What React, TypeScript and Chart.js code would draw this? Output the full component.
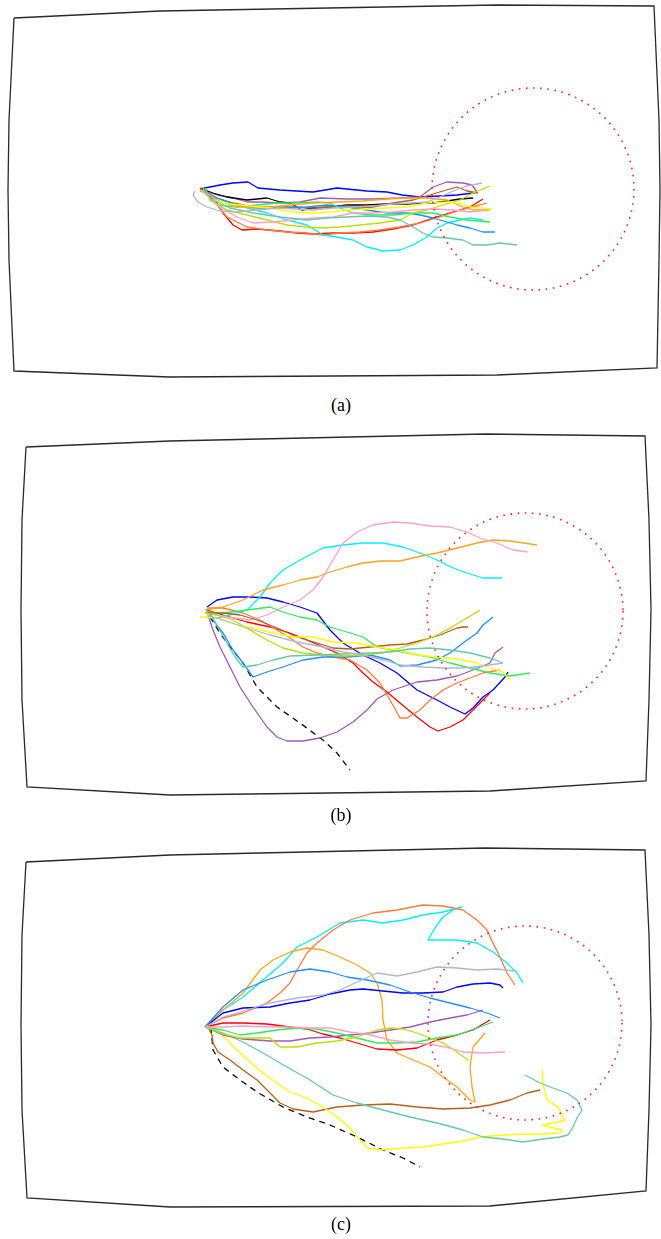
import React, { useEffect, useRef } from "react";
import { Chart, registerables } from "chart.js";

Chart.register(...registerables);

type P = [number, number];

// ---------- Panel (a) ----------
const A_FRAME: P[] = [[14,18],[160,11],[497,5],[654,6],[659,120],[660,190],[659,260],[657,368],[497,375],[169,377],[14,371],[9,260],[8,190],[9,120],[14,18]];
const A_CIRCLE = { cx: 533, cy: 189, r: 101 };
const A_BLUE: P[] = [[200,189],[220,185],[233,183],[248,182],[258,188],[280,190],[313,192],[337,188],[367,191],[387,192],[402,195],[420,197],[440,196],[457,195],[473,193],[477,192]];
const A_PURPLE: P[] = [[200,190],[217,195],[233,198],[247,202],[260,202],[280,203],[300,202],[320,198],[347,199],[373,199],[400,198],[420,197],[433,187],[447,182],[463,183],[472,185],[477,192]];
const A_BLACK: P[] = [[202,189],[213,193],[227,197],[247,200],[267,198],[280,202],[290,203],[302,210],[313,208],[330,207],[347,205],[367,205],[387,204],[407,204],[420,203],[433,203],[447,201],[460,199],[473,198]];
const A_GRAY: P[] = [[195,191],[193,195],[198,202],[207,207],[220,211],[237,212],[257,210],[277,208],[297,209],[313,210],[333,208],[353,207],[373,206],[393,204],[413,203],[427,202],[440,197],[453,191],[467,186],[482,183]];
const A_BROWN: P[] = [[200,191],[217,198],[233,203],[253,207],[273,207],[293,207],[313,208],[330,207],[347,206],[360,208],[373,207],[393,203],[413,200],[430,195],[443,191],[457,187],[467,191],[478,193]];
const A_LIME: P[] = [[203,188],[205,193],[213,202],[227,210],[247,215],[267,220],[287,225],[307,227],[323,228],[340,227],[360,225],[380,223],[400,220],[413,213],[427,210],[443,205],[460,200],[473,193],[490,186]];
const A_YELLOW: P[] = [[200,190],[213,200],[230,204],[250,206],[270,208],[293,212],[313,213],[330,212],[347,210],[367,209],[387,208],[407,207],[427,203],[447,202],[460,203],[470,207],[480,208],[492,209]];
const A_ORANGE: P[] = [[203,190],[217,200],[233,206],[253,208],[270,207],[290,205],[313,203],[337,202],[363,201],[387,199],[407,198],[427,198],[447,200],[463,207],[473,210],[490,210]];
const A_GREEN: P[] = [[205,188],[210,200],[218,205],[237,207],[257,205],[277,203],[297,203],[317,202],[330,203],[340,208],[353,213],[373,215],[393,215],[413,213],[433,213],[450,217],[467,220],[490,222]];
const A_CYAN: P[] = [[201,190],[213,197],[230,203],[247,208],[267,213],[287,220],[307,225],[323,235],[337,237],[353,240],[367,247],[383,251],[400,250],[413,245],[427,237],[437,228],[447,223],[460,220],[470,218],[483,220]];
const A_DODGER: P[] = [[202,190],[217,198],[237,205],[257,208],[280,208],[307,207],[327,205],[347,207],[367,210],[387,213],[407,213],[420,215],[433,218],[447,222],[457,225],[470,228],[483,232],[495,232]];
const A_TEAL: P[] = [[203,190],[213,200],[230,208],[253,213],[280,217],[307,220],[327,218],[347,217],[367,216],[387,217],[400,220],[413,227],[423,233],[433,237],[447,238],[463,240],[473,245],[487,245],[500,243],[517,245]];
const A_PINK: P[] = [[201,190],[220,207],[237,217],[253,223],[273,222],[293,220],[313,218],[333,217],[353,213],[373,213],[393,212],[413,210],[433,209],[453,210],[470,212],[487,210]];
const A_RED: P[] = [[200,188],[207,193],[217,203],[223,213],[233,225],[242,230],[257,229],[280,231],[297,233],[313,234],[333,233],[353,233],[373,232],[393,229],[413,225],[433,218],[453,212],[470,207],[483,199]];
const A_CORAL: P[] = [[203,191],[213,200],[227,217],[247,227],[267,230],[287,232],[307,233],[323,235],[340,233],[360,232],[380,230],[400,227],[420,223],[440,217],[460,210],[480,205],[487,203]];

// ---------- Panel (b) ----------
const B_FRAME: P[] = [[26,447],[170,441],[485,434],[645,436],[649,520],[651,610],[649,700],[646,781],[490,791],[170,795],[27,787],[22,700],[21,610],[22,520],[26,447]];
const B_CIRCLE = { cx: 525, cy: 611, r: 98 };
const B_PINK: P[] = [[207,613],[227,617],[250,620],[267,615],[283,607],[300,600],[313,590],[323,577],[333,560],[343,543],[357,532],[373,525],[393,522],[410,523],[430,526],[450,527],[467,532],[480,538],[497,543],[513,550],[528,552]];
const B_ORANGE: P[] = [[205,610],[223,607],[243,600],[263,590],[283,585],[300,580],[317,577],[330,572],[347,567],[363,563],[380,561],[400,561],[417,557],[437,553],[457,548],[477,543],[493,540],[510,541],[537,545]];
const B_CYAN: P[] = [[207,617],[217,618],[230,615],[247,610],[260,597],[270,583],[283,570],[300,560],[323,548],[343,545],[363,543],[383,543],[403,547],[420,553],[437,560],[453,568],[467,573],[483,578],[502,578]];
const B_BLUE: P[] = [[207,607],[217,600],[233,597],[250,597],[267,598],[283,602],[300,607],[317,613],[330,630],[343,643],[363,655],[380,663],[397,673],[417,690],[437,700],[450,707],[465,714],[473,708],[483,697],[493,690],[505,677],[508,672]];
const B_GREEN: P[] = [[207,612],[223,613],[247,610],[270,607],[283,612],[300,617],[317,620],[330,627],[347,632],[363,637],[377,647],[393,650],[407,653],[430,657],[450,663],[470,668],[490,673],[510,676],[530,673]];
const B_LIME: P[] = [[205,613],[217,615],[233,620],[250,630],[267,640],[283,648],[303,653],[323,655],[343,656],[363,655],[383,653],[400,648],[417,643],[433,637],[450,628],[467,618],[480,610]];
const B_BROWN: P[] = [[205,613],[223,613],[240,615],[257,620],[277,628],[297,637],[317,643],[333,648],[350,649],[370,647],[390,645],[407,644],[423,640],[440,635],[457,628],[463,627],[468,627]];
const B_YELLOW: P[] = [[200,617],[217,618],[237,625],[253,628],[273,633],[293,637],[313,637],[333,642],[357,643],[377,647],[397,650],[417,655],[437,657],[457,659],[477,663],[490,668],[503,672],[510,680]];
const B_GRAY: P[] = [[207,615],[223,620],[247,628],[270,635],[297,642],[323,647],[343,652],[363,655],[383,660],[400,665],[423,667],[443,668],[463,668],[483,666],[503,663]];
const B_TEAL: P[] = [[210,613],[218,627],[227,643],[235,657],[243,667],[257,665],[273,660],[290,656],[317,655],[343,654],[370,653],[390,652],[410,649],[430,648],[450,650],[470,653],[490,658],[503,663]];
const B_DODGER: P[] = [[207,610],[213,620],[223,633],[233,650],[243,663],[253,677],[267,672],[283,667],[303,660],[323,657],[347,657],[370,655],[390,660],[400,666],[417,665],[437,660],[450,653],[463,643],[477,633],[483,625],[493,617]];
const B_PURPLE: P[] = [[208,615],[213,630],[220,647],[230,667],[240,687],[253,707],[267,727],[277,737],[287,741],[303,741],[320,738],[337,732],[353,722],[367,710],[377,699],[393,690],[417,682],[437,680],[457,676],[473,670],[490,663],[495,653],[503,647]];
const B_RED: P[] = [[207,610],[223,615],[247,622],[270,627],[290,633],[307,640],[323,647],[337,653],[353,663],[363,673],[373,682],[387,692],[400,703],[417,717],[430,727],[438,731],[450,727],[463,720],[470,713],[480,703],[490,693]];
const B_CORAL: P[] = [[207,608],[223,608],[243,613],[260,620],[277,630],[290,638],[303,647],[317,653],[333,657],[350,660],[367,670],[380,683],[390,700],[400,718],[407,718],[420,710],[430,700],[443,690],[457,683],[470,678],[483,673],[500,670]];
const B_DASHED: P[] = [[210,617],[220,633],[230,647],[243,663],[257,687],[277,707],[300,723],[323,740],[337,753],[350,770]];

// ---------- Panel (c) ----------
const C_FRAME: P[] = [[26,862],[170,855],[485,848],[645,850],[649,935],[651,1025],[649,1110],[646,1191],[490,1206],[170,1207],[27,1198],[22,1110],[21,1025],[22,935],[26,862]];
const C_CIRCLE = { cx: 525, cy: 1023, r: 97 };
const C_CORAL: P[] = [[205,1027],[223,1018],[243,1013],[267,1003],[280,993],[290,983],[297,970],[307,953],[317,943],[333,930],[350,920],[373,913],[397,910],[423,905],[443,906],[463,910],[477,920],[487,930],[493,943],[500,957],[507,973],[515,985]];
const C_CYAN: P[] = [[205,1027],[223,1010],[243,997],[263,980],[283,963],[297,947],[317,937],[340,923],[363,920],[383,923],[403,920],[423,915],[443,912],[462,907],[453,910],[443,917],[437,925],[432,933],[428,940],[437,940],[457,940],[477,943],[493,952],[507,963],[517,973],[523,983]];
const C_ORANGE: P[] = [[205,1027],[223,1010],[243,993],[260,970],[273,960],[290,952],[307,948],[323,950],[340,957],[357,965],[370,973],[377,983],[382,1000],[383,1020],[387,1040],[397,1053],[413,1060],[430,1067],[443,1077],[457,1087],[470,1100],[475,1102],[472,1087],[470,1067],[473,1047],[485,1033]];
const C_DODGER: P[] = [[205,1027],[223,1007],[243,990],[267,980],[290,972],[310,969],[330,972],[347,977],[367,980],[390,985],[410,992],[430,998],[450,1003],[470,1008],[487,1013],[500,1018]];
const C_GRAY: P[] = [[205,1027],[223,1017],[247,1010],[270,1003],[297,998],[323,995],[340,990],[357,982],[377,973],[397,976],[417,972],[437,967],[457,968],[477,970],[497,969],[515,971]];
const C_BLUE: P[] = [[205,1027],[223,1013],[243,1008],[270,1007],[290,1003],[310,1000],[330,994],[350,990],[363,989],[383,991],[403,993],[423,993],[443,992],[457,987],[473,984],[490,983],[500,985],[503,988]];
const C_PURPLE: P[] = [[205,1027],[223,1035],[243,1039],[270,1041],[290,1041],[310,1038],[330,1037],[350,1035],[370,1033],[390,1030],[410,1027],[430,1022],[450,1018],[467,1015],[483,1010]];
const C_RED: P[] = [[205,1027],[223,1023],[243,1023],[267,1024],[290,1027],[307,1029],[323,1034],[340,1038],[357,1043],[377,1049],[397,1050],[417,1048],[437,1040],[457,1035],[473,1030],[490,1020]];
const C_GREEN: P[] = [[205,1027],[223,1030],[240,1035],[257,1033],[277,1030],[297,1028],[317,1029],[337,1033],[357,1038],[377,1043],[397,1043],[417,1042],[437,1038],[457,1035],[477,1028],[493,1022]];
const C_PINK: P[] = [[205,1027],[223,1027],[243,1026],[270,1027],[290,1027],[310,1028],[330,1028],[350,1032],[370,1035],[390,1040],[410,1043],[430,1044],[450,1048],[463,1052],[483,1053],[505,1052]];
const C_LIME: P[] = [[205,1027],[223,1034],[240,1038],[260,1038],[270,1038],[280,1047],[297,1047],[317,1043],[337,1041],[357,1037],[377,1030],[390,1028],[403,1029],[417,1033],[430,1038],[443,1043],[457,1052],[468,1060]];
const C_BROWN: P[] = [[208,1027],[212,1035],[213,1043],[218,1052],[230,1060],[243,1070],[257,1080],[270,1093],[280,1103],[293,1109],[313,1112],[337,1107],[363,1105],[390,1104],[417,1107],[443,1109],[470,1108],[490,1105],[510,1100],[527,1093],[540,1090]];
const C_YELLOW: P[] = [[205,1027],[217,1030],[227,1040],[237,1050],[250,1062],[263,1073],[277,1083],[290,1092],[307,1098],[323,1107],[337,1117],[350,1128],[360,1140],[367,1148],[380,1150],[403,1148],[423,1147],[443,1144],[463,1141],[480,1137],[503,1135],[527,1134],[543,1134],[560,1133],[562,1130],[550,1127],[543,1125],[557,1122],[565,1120],[558,1107],[547,1100],[543,1083],[542,1070]];
const C_TEAL: P[] = [[205,1027],[223,1033],[243,1042],[263,1053],[287,1067],[310,1080],[333,1095],[357,1103],[383,1110],[410,1117],[437,1123],[463,1130],[483,1137],[503,1139],[523,1142],[543,1139],[560,1137],[568,1135],[573,1127],[577,1118],[582,1110],[577,1100],[567,1093],[553,1088],[540,1083],[525,1075]];
const C_DASHED: P[] = [[211,1027],[213,1050],[223,1067],[240,1080],[257,1092],[283,1107],[307,1117],[330,1125],[357,1137],[383,1150],[403,1158],[420,1167]];

const LABELS = ["(a)", "(b)", "(c)"];

// ---------- styles ----------
const COLORS: Record<string, string> = {
  blue: "#0000ff",
  purple: "#a05ab4",
  black: "#000000",
  gray: "#b4b4d2",
  brown: "#b5601a",
  lime: "#bede00",
  yellow: "#ffff00",
  orange: "#ffa41c",
  green: "#2eec5c",
  cyan: "#00f0ff",
  dodger: "#1e90ff",
  teal: "#66c8a6",
  pink: "#ffa0c8",
  red: "#ff0000",
  coral: "#ff7a3c",
};

type Line = { pts: P[]; c: string; dashed?: boolean };
type Panel = { top: number; height: number; frame: P[]; circle: { cx: number; cy: number; r: number }; lines: Line[]; labelY: number; label: string };

const PANELS: Panel[] = [
  {
    top: 0, height: 392, frame: A_FRAME, circle: A_CIRCLE, labelY: 405, label: LABELS[0],
    lines: [
      { pts: A_GRAY, c: "gray" }, { pts: A_TEAL, c: "teal" }, { pts: A_PINK, c: "pink" }, { pts: A_YELLOW, c: "yellow" },
      { pts: A_ORANGE, c: "orange" }, { pts: A_LIME, c: "lime" }, { pts: A_GREEN, c: "green" }, { pts: A_DODGER, c: "dodger" },
      { pts: A_CYAN, c: "cyan" }, { pts: A_CORAL, c: "coral" }, { pts: A_RED, c: "red" }, { pts: A_BROWN, c: "brown" },
      { pts: A_BLACK, c: "black" }, { pts: A_PURPLE, c: "purple" }, { pts: A_BLUE, c: "blue" },
    ],
  },
  {
    top: 420, height: 385, frame: B_FRAME, circle: B_CIRCLE, labelY: 815, label: LABELS[1],
    lines: [
      { pts: B_GRAY, c: "gray" }, { pts: B_TEAL, c: "teal" }, { pts: B_YELLOW, c: "yellow" }, { pts: B_LIME, c: "lime" },
      { pts: B_BROWN, c: "brown" }, { pts: B_GREEN, c: "green" }, { pts: B_DODGER, c: "dodger" }, { pts: B_PINK, c: "pink" },
      { pts: B_ORANGE, c: "orange" }, { pts: B_CYAN, c: "cyan" }, { pts: B_CORAL, c: "coral" }, { pts: B_RED, c: "red" },
      { pts: B_PURPLE, c: "purple" }, { pts: B_BLUE, c: "blue" }, { pts: B_DASHED, c: "black", dashed: true },
    ],
  },
  {
    top: 835, height: 382, frame: C_FRAME, circle: C_CIRCLE, labelY: 1224, label: LABELS[2],
    lines: [
      { pts: C_GRAY, c: "gray" }, { pts: C_PINK, c: "pink" }, { pts: C_LIME, c: "lime" }, { pts: C_GREEN, c: "green" },
      { pts: C_PURPLE, c: "purple" }, { pts: C_RED, c: "red" }, { pts: C_TEAL, c: "teal" }, { pts: C_YELLOW, c: "yellow" },
      { pts: C_BROWN, c: "brown" }, { pts: C_DODGER, c: "dodger" }, { pts: C_BLUE, c: "blue" }, { pts: C_ORANGE, c: "orange" },
      { pts: C_CORAL, c: "coral" }, { pts: C_CYAN, c: "cyan" }, { pts: C_DASHED, c: "black", dashed: true },
    ],
  },
];

const dottedCircle = {
  id: "dottedCircle",
  afterDatasetsDraw(chart: any, _args: any, opts: any) {
    if (!opts || opts.cx === undefined) return;
    const xs = chart.scales.x, ys = chart.scales.y;
    const px = xs.getPixelForValue(opts.cx);
    const py = ys.getPixelForValue(opts.cy);
    const pr = Math.abs(xs.getPixelForValue(opts.cx + opts.r) - px);
    const ctx = chart.ctx;
    ctx.save();
    ctx.strokeStyle = "#ff2020";
    ctx.lineWidth = 1.6;
    ctx.setLineDash([1.6, 5.6]);
    ctx.beginPath();
    ctx.arc(px, py, pr, 0, Math.PI * 2);
    ctx.stroke();
    ctx.restore();
  },
};

function PanelChart({ panel }: { panel: Panel }) {
  const ref = useRef<HTMLCanvasElement | null>(null);
  useEffect(() => {
    if (!ref.current) return;
    const toXY = (pts: P[]) => pts.map(([x, y]) => ({ x, y }));
    const datasets: any[] = [
      {
        data: toXY(panel.frame), showLine: true, borderColor: "#2a2a2a", borderWidth: 1.3,
        pointRadius: 0, fill: false, clip: false, tension: 0, borderJoinStyle: "miter",
      },
      ...panel.lines.map((l) => ({
        data: toXY(l.pts), showLine: true, borderColor: COLORS[l.c], borderWidth: 1.3,
        pointRadius: 0, fill: false, clip: false, tension: 0, borderJoinStyle: "round",
        borderDash: l.dashed ? [6, 5] : [],
      })),
    ];
    const chart = new Chart(ref.current, {
      type: "scatter",
      data: { datasets },
      options: {
        animation: false,
        responsive: false,
        devicePixelRatio: 1,
        events: [],
        layout: { padding: 0 },
        plugins: {
          legend: { display: false },
          tooltip: { enabled: false },
          dottedCircle: panel.circle,
        } as any,
        scales: {
          x: { type: "linear", min: 0, max: 661, display: false },
          y: { type: "linear", min: panel.top, max: panel.top + panel.height, reverse: true, display: false },
        },
      },
      plugins: [dottedCircle],
    });
    return () => chart.destroy();
  }, [panel]);
  return (
    <>
      <canvas
        ref={ref}
        width={661}
        height={panel.height}
        style={{ position: "absolute", left: 0, top: panel.top, width: 661, height: panel.height }}
      />
      <div
        style={{
          position: "absolute", left: 291, width: 100, top: panel.labelY - 11, height: 22,
          textAlign: "center", fontFamily: "'Liberation Serif', 'DejaVu Serif', serif", fontSize: 18, lineHeight: "22px", color: "#000",
        }}
      >
        {panel.label}
      </div>
    </>
  );
}

export default function App() {
  return (
    <div style={{ position: "absolute", left: 0, top: 0, width: 661, height: 1239, background: "#fff", overflow: "hidden" }}>
      {PANELS.map((p, i) => (
        <PanelChart key={i} panel={p} />
      ))}
    </div>
  );
}
